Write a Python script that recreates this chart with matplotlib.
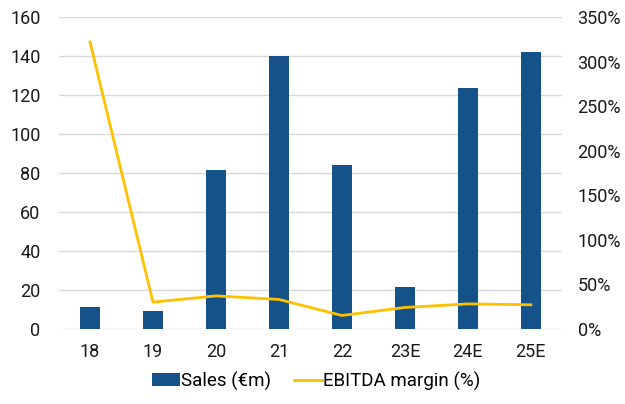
import matplotlib.pyplot as plt
import numpy as np

plt.rcParams['font.family'] = ['Roboto', 'DejaVu Sans']

# chart data
years = ["18", "19", "20", "21", "22", "23E", "24E", "25E"]
sales = [11.3, 9.0, 81.5, 140, 84, 21.5, 123.5, 142]
ebitda_margin = [322, 30, 37, 33, 15, 24, 28, 27]

bar_color = "#15528A"
line_color = "#FFC000"
grid_color = "#D9D9D9"

fig = plt.figure(figsize=(6.25, 4.04), dpi=100)
ax = fig.add_axes([0.0936, 0.186, 0.806, 0.772])
ax2 = ax.twinx()

x = np.arange(len(years))
ax.bar(x, sales, width=0.32, color=bar_color, label="Sales (€m)", zorder=2)
ax2.plot(x, ebitda_margin, color=line_color, lw=2, label="EBITDA margin (%)",
         solid_joinstyle="round")

ax.set_ylim(0, 160)
ax.set_yticks(range(0, 161, 20))
ax2.set_ylim(0, 350)
ax2.set_yticks(range(0, 351, 50))
ax2.set_yticklabels([f"{v}%" for v in range(0, 351, 50)])
ax.set_xlim(-0.5, len(years) - 0.5)
ax.set_xticks(x)
ax.set_xticklabels(years)

ax.grid(axis="y", color=grid_color, lw=1, zorder=0)
ax.set_axisbelow(True)
for a in (ax, ax2):
    for s in a.spines.values():
        s.set_visible(False)
    a.tick_params(length=0, labelsize=13, colors="#1a1a1a")
ax.tick_params(axis="x", pad=10)
ax.tick_params(axis="y", pad=13)
ax2.tick_params(axis="y", pad=11)

h1, l1 = ax.get_legend_handles_labels()
h2, l2 = ax2.get_legend_handles_labels()
fig.legend(h1 + h2, l1 + l2, loc="center", bbox_to_anchor=(0.506, 0.057), ncol=2,
           frameon=False, fontsize=13.5, handlelength=1.5, handletextpad=0.05,
           columnspacing=1.2)

fig.savefig("out.png", dpi=100)
